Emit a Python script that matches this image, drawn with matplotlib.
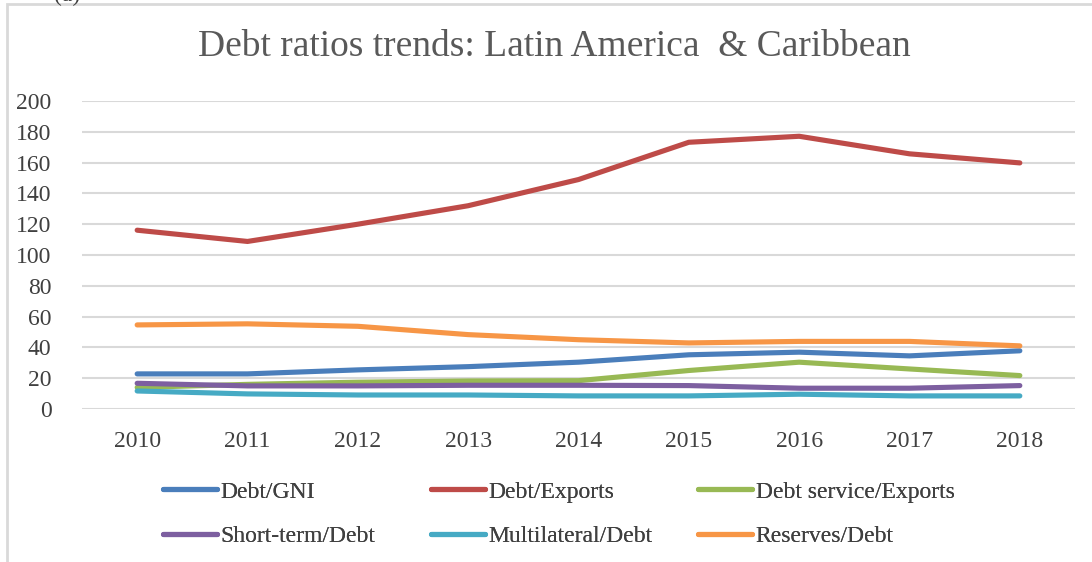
import numpy as np
import matplotlib
matplotlib.use("Agg")
from matplotlib import pyplot as plt
from matplotlib.patches import Rectangle

plt.rcParams['font.family'] = ['Liberation Serif', 'DejaVu Serif']

years = ['2010', '2011', '2012', '2013', '2014', '2015', '2016', '2017', '2018']

debt_gni = [22.8, 22.8, 25.4, 27.5, 30.4, 35.2, 36.9, 34.5, 37.8]
debt_exports = [116.1, 108.8, 120.0, 132.0, 149.0, 173.2, 177.1, 165.7, 159.8]
debt_service_exports = [14.0, 16.0, 17.4, 18.2, 18.4, 25.0, 30.4, 26.0, 21.7]
short_term_debt = [16.7, 15.0, 15.0, 15.4, 15.4, 15.2, 13.5, 13.5, 15.2]
multilateral_debt = [11.7, 9.8, 9.1, 9.1, 8.5, 8.5, 9.6, 8.5, 8.5]
reserves_debt = [54.6, 55.3, 53.7, 48.3, 45.0, 42.9, 43.9, 43.9, 41.0]

series = [
    ('Debt/GNI', debt_gni, '#4a7ebb'),
    ('Debt/Exports', debt_exports, '#be4b48'),
    ('Debt service/Exports', debt_service_exports, '#98b954'),
    ('Short-term/Debt', short_term_debt, '#7d5fa0'),
    ('Multilateral/Debt', multilateral_debt, '#46aac4'),
    ('Reserves/Debt', reserves_debt, '#f79646'),
]

W, H = 1092, 562
fig = plt.figure(figsize=(W / 100, H / 100), dpi=100)
fig.patch.set_facecolor('white')

# chart frame (runs off the right and bottom edges)
fig.add_artist(Rectangle((7 / W, -0.1), 1.2, 1 - 4 / H + 0.1, transform=fig.transFigure,
                         fill=False, edgecolor='#d9d9d9', linewidth=2))
fig.text(67 / W, 1 + 5 / H, '(a)', ha='center', va='center', fontsize=17, color='#404040')

ax = fig.add_axes([82 / W, 1 - 409 / H, (1075 - 82) / W, (409 - 101) / H])
x = np.arange(len(years))
handles = []
for name, vals, col in series:
    line, = ax.plot(x, vals, color=col, linewidth=3.7, solid_capstyle='round',
                    solid_joinstyle='round', label=name, zorder=3)
    handles.append(line)

ax.set_xlim(-0.5, len(years) - 0.5)
ax.set_ylim(0, 200)
ax.set_yticks(np.arange(0, 201, 20))
ax.set_xticks(x)
ax.set_xticklabels(years)
ax.yaxis.grid(True, color='#d9d9d9', linewidth=1.5)
ax.set_axisbelow(True)
for s in ax.spines.values():
    s.set_visible(False)
ax.tick_params(axis='both', length=0, labelsize=17, labelcolor='#404040')
ax.tick_params(axis='y', pad=22)
ax.tick_params(axis='x', pad=16)

fig.text(554 / W, 1 - 47 / H, 'Debt ratios trends: Latin America  & Caribbean',
         ha='center', va='center', fontsize=27, color='#595959')

# legend laid out in three columns
col_x = [163, 431, 698]
for c in range(3):
    hs = [handles[c], handles[c + 3]]
    leg = fig.legend(hs, [h.get_label() for h in hs], loc='upper left',
                     bbox_to_anchor=(col_x[c] / W, 1 - 481 / H), frameon=False,
                     fontsize=17, handlelength=2.3, handletextpad=0.15,
                     borderpad=0, borderaxespad=0, labelspacing=0.97)
    for t in leg.get_texts():
        t.set_color('#404040')
    fig.add_artist(leg)

fig.savefig('out.png', dpi=100, facecolor='white')
